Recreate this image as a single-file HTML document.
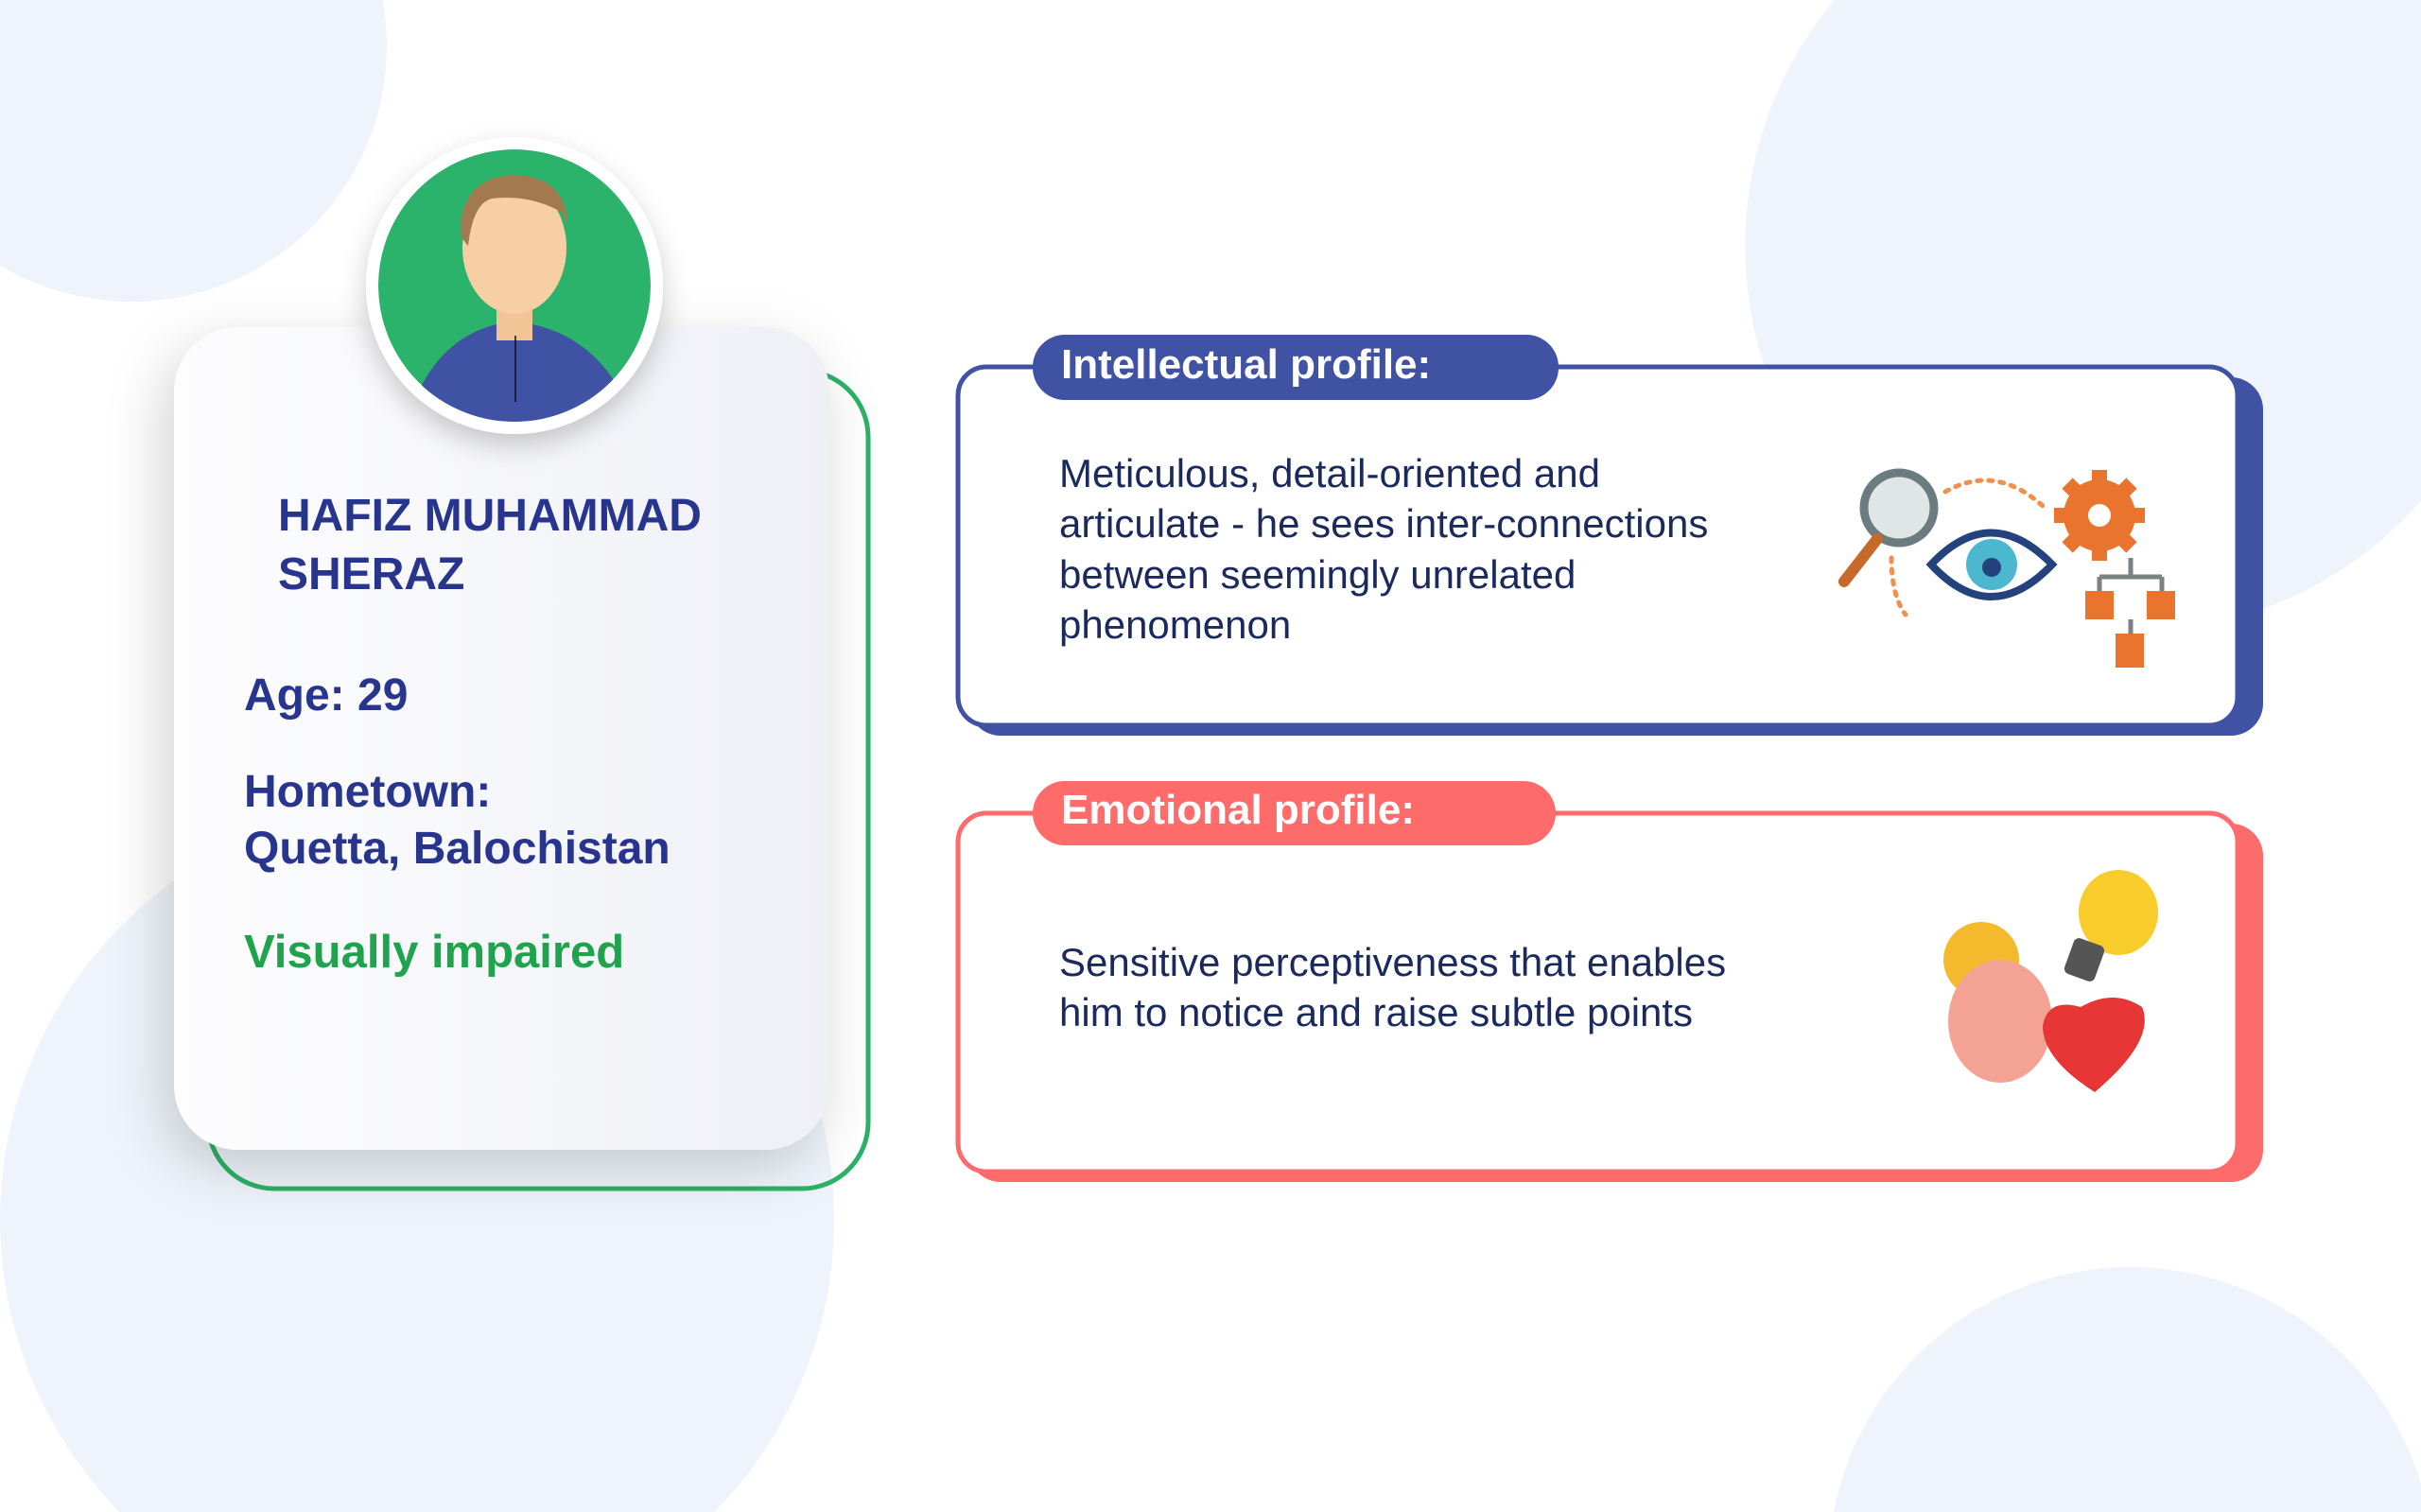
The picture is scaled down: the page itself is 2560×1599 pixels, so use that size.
<!DOCTYPE html>
<html style="margin:0;width:2560px;height:1599px;overflow:hidden"><head><meta charset="utf-8"><style>
body{margin:0;width:2560px;height:1599px;overflow:hidden;background:#fff;position:relative;font-family:"Liberation Sans",sans-serif}
.abs{position:absolute}
.t{position:absolute;white-space:nowrap}
</style></head><body>
<svg class="abs" style="left:0;top:0;display:block;overflow:hidden" width="2560" height="1599">
<defs>
<filter id="sh" x="-30%" y="-30%" width="160%" height="160%"><feDropShadow dx="-10" dy="20" stdDeviation="30" flood-color="#000" flood-opacity="0.18"/></filter>
<filter id="sh2" x="-30%" y="-30%" width="160%" height="160%"><feDropShadow dx="0" dy="12" stdDeviation="14" flood-color="#000" flood-opacity="0.2"/></filter>
<linearGradient id="cg" x1="0" x2="1"><stop offset="0" stop-color="#fdfdfe"/><stop offset="1" stop-color="#eff0f6"/></linearGradient>
</defs>
<path d="M0 0 L404.5 0 A270 270 0 0 1 0 280.5 Z" fill="#eff4fc"/>
<path d="M126.4 1599 A441 441 0 1 1 755.6 1599 Z" fill="#eff4fc"/>
<path d="M1939.4 0 A408 408 0 0 0 2560 529.7 L2560 0 Z" fill="#eff4fc"/>
<path d="M1938.9 1599 A320 320 0 0 1 2560 1569.7 L2560 1599 Z" fill="#eff4fc"/>
<rect x="220" y="392" width="698" height="865" rx="70" fill="none" stroke="#2bb264" stroke-width="5"/>
<rect x="184" y="346" width="693" height="870" rx="68" fill="url(#cg)" filter="url(#sh)"/>
<circle cx="544" cy="302" r="157" fill="#fff" filter="url(#sh2)"/>
<clipPath id="av"><circle cx="544" cy="302" r="144"/></clipPath>
<g clip-path="url(#av)">
<circle cx="544" cy="302" r="144" fill="#2bb36c"/>
<path d="M440 420 Q470 350 540 340 Q620 345 660 420 L660 460 L430 460Z" fill="#3f52a4"/>
<rect x="525" y="300" width="38" height="60" fill="#f3c596"/>
<ellipse cx="544" cy="262" rx="55" ry="70" fill="#f8cfa4"/>
<path d="M487 250 Q485 190 540 185 Q600 185 600 240 L595 225 Q560 205 520 210 Q500 215 495 260Z" fill="#a37a50"/>
<path d="M545 355 L545 425" stroke="#111" stroke-width="1.5"/>
</g>
<rect x="1024" y="399" width="1369" height="379" rx="34" fill="#3f52a4"/>
<rect x="1013" y="388" width="1353" height="379" rx="30" fill="#fff" stroke="#3f52a4" stroke-width="5"/>
<rect x="1092" y="354" width="556" height="69" rx="34" fill="#3f52a4"/>
<rect x="1024" y="871" width="1369" height="379" rx="34" fill="#fd6b6b"/>
<rect x="1013" y="860" width="1353" height="379" rx="30" fill="#fff" stroke="#fd6b6b" stroke-width="5"/>
<rect x="1092" y="826" width="553" height="68" rx="34" fill="#fd6b6b"/>
<g>
<circle cx="2008" cy="537" r="37" fill="#dfe6e6" stroke="#6c7b80" stroke-width="9"/>
<path d="M1985 570 L1950 615" stroke="#c66a2b" stroke-width="12" stroke-linecap="round"/>
<path d="M2057 520 Q2110 490 2160 535" stroke="#f0904c" stroke-width="5" stroke-dasharray="4 8" fill="none" stroke-linecap="round"/>
<path d="M2000 590 Q2000 630 2015 650" stroke="#f0904c" stroke-width="5" stroke-dasharray="4 8" fill="none" stroke-linecap="round"/>
<path d="M2042 597 Q2105 530 2170 597 Q2105 665 2042 597Z" fill="#fff" stroke="#23427e" stroke-width="8"/>
<circle cx="2106" cy="597" r="27" fill="#4cb8d0"/><circle cx="2106" cy="600" r="10" fill="#23427e"/>
<g fill="#e8742e"><circle cx="2220" cy="545" r="38"/><rect x="2212" y="497" width="16" height="96"/><rect x="2172" y="537" width="96" height="16"/><rect x="2212" y="497" width="16" height="96" transform="rotate(45 2220 545)"/><rect x="2212" y="497" width="16" height="96" transform="rotate(-45 2220 545)"/></g>
<circle cx="2220" cy="545" r="12" fill="#fff"/>
<path d="M2253 590 V610 M2220 610 H2286 M2220 610 V625 M2286 610 V625 M2253 655 V670" stroke="#7a8283" stroke-width="5" fill="none"/>
<rect x="2205" y="625" width="30" height="30" fill="#e8742e"/><rect x="2270" y="625" width="30" height="30" fill="#e8742e"/><rect x="2237" y="670" width="30" height="36" fill="#e8742e"/>
</g>
<g>
<circle cx="2095" cy="1015" r="40" fill="#f5b92e"/>
<ellipse cx="2115" cy="1080" rx="55" ry="65" fill="#f3a293"/>
<path d="M2215 1155 Q2160 1120 2160 1085 Q2165 1055 2200 1065 Q2235 1045 2265 1065 Q2280 1100 2215 1155Z" fill="#e63636"/>
<ellipse cx="2240" cy="965" rx="42" ry="45" fill="#f7cc2b"/>
<rect x="2187" y="995" width="34" height="40" rx="6" fill="#555" transform="rotate(20 2204 1015)"/>
</g>
</svg>
<div class="t" style="left:294px;top:515px;font-size:48px;font-weight:bold;color:#27358e;line-height:62px">HAFIZ MUHAMMAD<br>SHERAZ</div>
<div class="t" style="left:258px;top:708px;font-size:48px;font-weight:bold;color:#27358e">Age: 29</div>
<div class="t" style="left:258px;top:808px;font-size:48px;font-weight:bold;color:#27358e;line-height:60px">Hometown:<br>Quetta, Balochistan</div>
<div class="t" style="left:258px;top:979px;font-size:49px;font-weight:bold;color:#1fa34d">Visually impaired</div>
<div class="t" style="left:1122px;top:361px;font-size:44px;font-weight:bold;color:#fff">Intellectual profile:</div>
<div class="t" style="left:1122px;top:832px;font-size:44px;font-weight:bold;color:#fff">Emotional profile:</div>
<div class="t" style="left:1120px;top:474px;font-size:42px;color:#1a2a5e;line-height:53.3px">Meticulous, detail-oriented and<br>articulate - he sees inter-connections<br>between seemingly unrelated<br>phenomenon</div>
<div class="t" style="left:1120px;top:991px;font-size:42px;color:#1a2a5e;line-height:53.3px">Sensitive perceptiveness that enables<br>him to notice and raise subtle points</div>
</body></html>
